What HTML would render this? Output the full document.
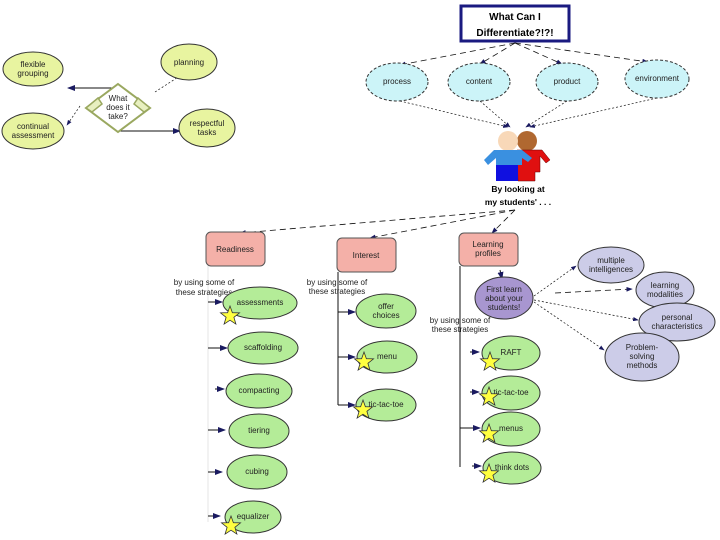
<!DOCTYPE html>
<html><head><meta charset="utf-8"><style>
html,body{margin:0;padding:0;background:#fff}
svg{display:block}
text{font-family:"Liberation Sans",sans-serif;font-size:8px;fill:#222;text-anchor:middle}
.b{font-weight:bold;font-size:10px;fill:#000}
.g{fill:#b4ec98;stroke:#333;stroke-width:1}
.y{fill:#e8f4a0;stroke:#333;stroke-width:1}
.l{fill:#cccce8;stroke:#333;stroke-width:1}
.p{fill:#f4b0a8;stroke:#555;stroke-width:1}
.c{fill:#ccf4f8;stroke:#333;stroke-width:1;stroke-dasharray:3 2}
.d{stroke:#111;stroke-width:0.8;stroke-dasharray:6 4;fill:none}
.s{stroke:#111;stroke-width:1;fill:none}
.f{stroke:#ccc;stroke-width:0.5;fill:none}
.dot{stroke:#111;stroke-width:0.7;stroke-dasharray:2 2;fill:none}
</style></head><body>
<svg width="720" height="540" viewBox="0 0 720 540" xmlns="http://www.w3.org/2000/svg">
<defs>
<polygon id="st" points="0,-10 2.4,-3.3 9.5,-3.1 3.9,1.3 5.9,8.1 0,4.2 -5.9,8.1 -3.9,1.3 -9.5,-3.1 -2.4,-3.3" fill="#ffff40" stroke="#333" stroke-width="0.8"/>
<marker id="a" markerWidth="8" markerHeight="6" refX="7" refY="3" orient="auto"><path d="M0,0 L8,3 L0,6 z" fill="#1a1a60"/></marker>
</defs>

<!-- left diagram -->
<path class="s" d="M116,88 L68,88" marker-end="url(#a)"/>
<path class="dot" d="M155,92 L186,72" marker-end="url(#a)"/>
<path class="dot" d="M80,106 L67,125" marker-end="url(#a)"/>
<path class="s" d="M118,127 L118,131 L180,131" marker-end="url(#a)"/>
<polygon points="118,84 150,108 118,132 86,108" fill="#fff" stroke="#9aa860" stroke-width="2"/>
<polygon points="86,108 98,98 102,104 92,112" fill="#e8f0c0" stroke="#9aa860" stroke-width="1.5"/>
<polygon points="150,108 138,98 134,104 144,112" fill="#e8f0c0" stroke="#9aa860" stroke-width="1.5"/>
<text x="118" y="101">What</text><text x="118" y="110">does it</text><text x="118" y="119">take?</text>
<ellipse class="y" cx="33" cy="69" rx="30" ry="17"/><text x="33" y="67">flexible</text><text x="33" y="76">grouping</text>
<ellipse class="y" cx="189" cy="62" rx="28" ry="18"/><text x="189" y="65">planning</text>
<ellipse class="y" cx="33" cy="131" rx="31" ry="18"/><text x="33" y="129">continual</text><text x="33" y="138">assessment</text>
<ellipse class="y" cx="207" cy="128" rx="28" ry="19"/><text x="207" y="126">respectful</text><text x="207" y="135">tasks</text>

<!-- top -->
<rect x="461" y="6" width="108" height="35" fill="#fff" stroke="#1a1a80" stroke-width="3"/>
<text class="b" x="515" y="20">What Can I</text><text class="b" x="515" y="36">Differentiate?!?!</text>
<path class="d" d="M515,43 L400,65" marker-end="url(#a)"/>
<path class="d" d="M515,43 L480,64" marker-end="url(#a)"/>
<path class="d" d="M515,43 L562,64" marker-end="url(#a)"/>
<path class="d" d="M515,43 L648,62" marker-end="url(#a)"/>
<ellipse class="c" cx="397" cy="82" rx="31" ry="19"/><text x="397" y="84">process</text>
<ellipse class="c" cx="479" cy="82" rx="31" ry="19"/><text x="479" y="84">content</text>
<ellipse class="c" cx="567" cy="82" rx="31" ry="19"/><text x="567" y="84">product</text>
<ellipse class="c" cx="657" cy="79" rx="32" ry="19"/><text x="657" y="81">environment</text>
<path class="dot" d="M400,101 L508,127" marker-end="url(#a)"/>
<path class="dot" d="M480,101 L510,127" marker-end="url(#a)"/>
<path class="dot" d="M567,101 L526,127" marker-end="url(#a)"/>
<path class="dot" d="M657,98 L530,127" marker-end="url(#a)"/>
<!-- kids -->
<circle cx="527" cy="141" r="10" fill="#b06830"/>
<path d="M517,150 L542,150 L550,160 L546,163 L540,156 L540,172 L535,172 L535,181 L518,181 Z" fill="#e01010" stroke="#600" stroke-width="0.5"/>
<circle cx="508" cy="141" r="10" fill="#f8d8b8"/>
<path d="M494,150 L522,150 L532,158 L528,162 L522,158 L522,165 L518,165 L518,181 L496,181 L496,158 L488,165 L484,160 Z" fill="#3a90e0"/>
<rect x="496" y="165" width="22" height="16" fill="#1010e0"/>
<text class="b" x="518" y="192" style="font-size:8.5px">By looking at</text>
<text class="b" x="518" y="205" style="font-size:8.5px">my students' . . .</text>
<path class="d" d="M515,210 L240,233" marker-end="url(#a)"/>
<path class="d" d="M515,210 L370,238" marker-end="url(#a)"/>
<path class="d" d="M515,210 L492,233" marker-end="url(#a)"/>

<!-- boxes -->
<rect class="p" x="206" y="232" width="59" height="34" rx="5"/><text x="235" y="252">Readiness</text>
<rect class="p" x="337" y="238" width="59" height="34" rx="5"/><text x="366" y="258">Interest</text>
<rect class="p" x="459" y="233" width="59" height="33" rx="5"/><text x="488" y="247">Learning</text><text x="488" y="256">profiles</text>

<!-- readiness column -->
<path class="f" d="M208,266 L208,522"/>
<text x="204" y="285">by using some of</text><text x="204" y="295">these strategies</text>
<g class="s">
<path d="M208,302 L222,302" marker-end="url(#a)"/>
<path d="M208,348 L227,348" marker-end="url(#a)"/>
<path d="M215,389 L224,389" marker-end="url(#a)"/>
<path d="M208,430 L225,430" marker-end="url(#a)"/>
<path d="M208,472 L222,472" marker-end="url(#a)"/>
<path d="M208,516 L220,516" marker-end="url(#a)"/>
</g>
<ellipse class="g" cx="260" cy="303" rx="37" ry="16"/><text x="260" y="305">assessments</text>
<ellipse class="g" cx="263" cy="348" rx="35" ry="16"/><text x="263" y="350">scaffolding</text>
<ellipse class="g" cx="259" cy="391" rx="33" ry="17"/><text x="259" y="393">compacting</text>
<ellipse class="g" cx="259" cy="431" rx="30" ry="17"/><text x="259" y="433">tiering</text>
<ellipse class="g" cx="257" cy="472" rx="30" ry="17"/><text x="257" y="474">cubing</text>
<ellipse class="g" cx="253" cy="517" rx="28" ry="16"/><text x="253" y="519">equalizer</text>

<!-- interest column -->
<path class="s" d="M338,272 L338,405"/>
<text x="337" y="285">by using some of</text><text x="337" y="294">these strategies</text>
<path class="s" d="M338,312 L355,312" marker-end="url(#a)"/>
<path class="s" d="M338,357 L355,357" marker-end="url(#a)"/>
<path class="s" d="M338,405 L355,405" marker-end="url(#a)"/>
<ellipse class="g" cx="386" cy="311" rx="30" ry="17"/><text x="386" y="309">offer</text><text x="386" y="318">choices</text>
<ellipse class="g" cx="387" cy="357" rx="30" ry="16"/><text x="387" y="359">menu</text>
<ellipse class="g" cx="386" cy="405" rx="30" ry="16"/><text x="386" y="407">tic-tac-toe</text>

<!-- learning profiles -->
<path class="s" d="M460,266 L460,467"/>
<path class="s" d="M500,270 L502,279" marker-end="url(#a)"/>
<ellipse cx="504" cy="298" rx="29" ry="21" fill="#a896d0" stroke="#333"/>
<text x="504" y="292">First learn</text><text x="504" y="301">about your</text><text x="504" y="310">students!</text>
<text x="460" y="323">by using some of</text><text x="460" y="332">these strategies</text>
<path class="dot" d="M534,296 L576,266" marker-end="url(#a)"/>
<path class="d" d="M555,293 L632,289" marker-end="url(#a)"/>
<path class="dot" d="M534,300 L638,320" marker-end="url(#a)"/>
<path class="dot" d="M534,302 L604,350" marker-end="url(#a)"/>
<ellipse class="l" cx="611" cy="265" rx="33" ry="18"/><text x="611" y="263">multiple</text><text x="611" y="272">intelligences</text>
<ellipse class="l" cx="665" cy="290" rx="29" ry="18"/><text x="665" y="288">learning</text><text x="665" y="297">modalities</text>
<ellipse class="l" cx="677" cy="322" rx="38" ry="19"/><text x="677" y="320">personal</text><text x="677" y="329">characteristics</text>
<ellipse class="l" cx="642" cy="357" rx="37" ry="24"/><text x="642" y="350">Problem-</text><text x="642" y="359">solving</text><text x="642" y="368">methods</text>
<path class="s" d="M470,352 L479,352" marker-end="url(#a)"/>
<path class="s" d="M470,392 L479,392" marker-end="url(#a)"/>
<path class="s" d="M460,428 L480,428" marker-end="url(#a)"/>
<path class="s" d="M472,466 L481,466" marker-end="url(#a)"/>
<ellipse class="g" cx="511" cy="353" rx="29" ry="17"/><text x="511" y="355">RAFT</text>
<ellipse class="g" cx="511" cy="393" rx="29" ry="17"/><text x="511" y="395">tic-tac-toe</text>
<ellipse class="g" cx="511" cy="429" rx="29" ry="17"/><text x="511" y="431">menus</text>
<ellipse class="g" cx="512" cy="468" rx="29" ry="16"/><text x="512" y="470">think dots</text>

<!-- stars -->
<use href="#st" x="230" y="316"/>
<use href="#st" x="364" y="362"/>
<use href="#st" x="363" y="410"/>
<use href="#st" x="490" y="362"/>
<use href="#st" x="489" y="397"/>
<use href="#st" x="489" y="434"/>
<use href="#st" x="489" y="474"/>
<use href="#st" x="231" y="526"/>
</svg>
</body></html>
